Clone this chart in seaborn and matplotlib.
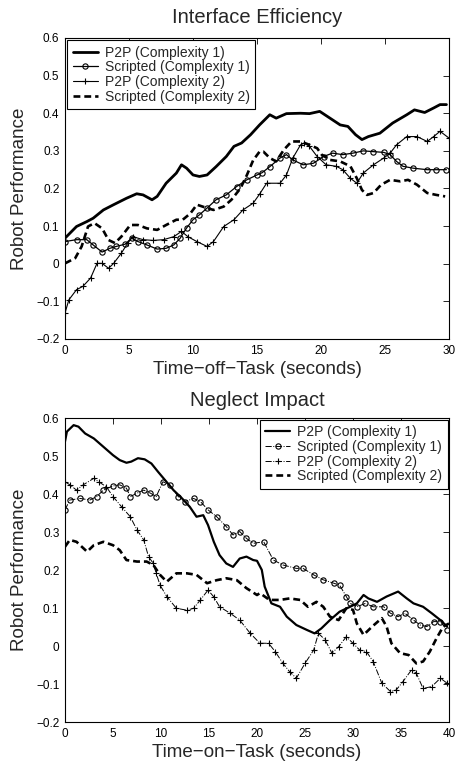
import numpy as np
import pandas as pd
import matplotlib
matplotlib.use("Agg")
import matplotlib.pyplot as plt
import seaborn as sns

# ---------------- data: Interface Efficiency (top) ----------------
top_p2p1_t = [0, 0.9, 1.7, 2.2, 3.0, 3.8, 4.8, 5.6, 6.1, 6.8, 7.2, 7.9, 8.7, 9.1, 9.5, 10.0, 10.5, 11.1,
              11.8, 12.6, 13.2, 13.8, 14.5, 15.2, 16.0, 16.5, 17.3, 18.4, 19.1, 19.9, 20.7, 21.5, 22.1,
              22.7, 23.2, 23.7, 24.6, 25.6, 26.7, 27.3, 28.1, 28.8, 29.3, 29.8]
top_p2p1_v = [0.068, 0.099, 0.112, 0.121, 0.143, 0.157, 0.174, 0.186, 0.183, 0.170, 0.179, 0.214, 0.241,
              0.263, 0.254, 0.236, 0.232, 0.236, 0.258, 0.285, 0.312, 0.321, 0.343, 0.369, 0.396, 0.387,
              0.399, 0.400, 0.399, 0.405, 0.387, 0.369, 0.365, 0.343, 0.330, 0.338, 0.347, 0.374, 0.396,
              0.409, 0.402, 0.414, 0.423, 0.423]

top_scr1_t = [0, 0.9, 1.7, 2.2, 2.9, 3.5, 4.0, 4.7, 5.2, 5.7, 6.4, 7.2, 7.9, 8.5, 9.0, 9.5, 10.0, 10.5,
              11.1, 11.8, 12.6, 13.4, 14.2, 15.0, 15.4, 16.0, 16.8, 17.3, 17.8, 18.6, 19.4, 20.2, 20.9,
              21.7, 22.5, 23.3, 24.1, 24.9, 25.4, 25.9, 26.4, 27.2, 28.3, 29.0, 29.8]
top_scr1_v = [0.059, 0.064, 0.064, 0.050, 0.031, 0.041, 0.046, 0.052, 0.068, 0.059, 0.050, 0.039, 0.041,
              0.050, 0.068, 0.095, 0.117, 0.130, 0.148, 0.170, 0.183, 0.205, 0.223, 0.236, 0.242, 0.258,
              0.281, 0.290, 0.276, 0.263, 0.267, 0.285, 0.294, 0.290, 0.294, 0.300, 0.298, 0.296, 0.290,
              0.272, 0.259, 0.254, 0.250, 0.250, 0.250]

top_p2p2_t = [0, 0.3, 0.9, 1.4, 2.0, 2.5, 2.9, 3.4, 3.8, 4.4, 4.9, 5.3, 6.1, 6.9, 7.7, 8.5, 9.1, 9.6,
              10.3, 11.1, 11.6, 12.4, 13.2, 13.9, 14.7, 15.2, 15.75, 16.8, 17.3, 17.8, 18.4, 18.7, 19.1,
              19.7, 20.4, 21.2, 21.7, 22.3, 22.8, 23.3, 24.1, 24.9, 25.4, 25.9, 26.7, 27.5, 28.3, 28.8,
              29.3, 30.0]
top_p2p2_v = [-0.131, -0.096, -0.069, -0.060, -0.038, 0.001, 0.001, -0.012, 0.001, 0.028, 0.055, 0.072,
              0.064, 0.062, 0.064, 0.072, 0.086, 0.072, 0.059, 0.046, 0.059, 0.099, 0.117, 0.143, 0.161,
              0.185, 0.214, 0.214, 0.236, 0.281, 0.316, 0.321, 0.312, 0.285, 0.263, 0.259, 0.250, 0.227,
              0.214, 0.241, 0.263, 0.281, 0.294, 0.316, 0.338, 0.338, 0.325, 0.338, 0.352, 0.334]

top_scr2_t = [0, 0.8, 1.3, 1.8, 2.3, 2.9, 3.4, 3.9, 4.4, 5.1, 5.7, 6.4, 7.2, 7.9, 8.7, 9.2, 9.8, 10.3,
              11.1, 11.6, 12.4, 13.0, 13.7, 14.2, 14.7, 15.2, 15.5, 16.0, 16.5, 17.1, 17.7, 18.4, 19.1,
              19.7, 20.05, 20.7, 21.5, 22.3, 22.8, 23.2, 23.6, 24.1, 24.7, 25.4, 26.2, 26.8, 27.5, 28.3,
              29.0, 29.7]
top_scr2_v = [0.001, 0.015, 0.046, 0.099, 0.108, 0.094, 0.063, 0.055, 0.072, 0.103, 0.103, 0.094, 0.090,
              0.103, 0.117, 0.117, 0.134, 0.157, 0.148, 0.143, 0.152, 0.170, 0.200, 0.235, 0.275, 0.298,
              0.298, 0.281, 0.272, 0.303, 0.325, 0.325, 0.316, 0.307, 0.290, 0.276, 0.272, 0.259, 0.227,
              0.196, 0.183, 0.188, 0.210, 0.223, 0.219, 0.223, 0.210, 0.188, 0.183, 0.179]

# ---------------- data: Neglect Impact (bottom) ----------------
bot_p2p1_t = [0, 0.2, 0.9, 1.4, 2.1, 3.0, 4.0, 5.0, 5.7, 6.4, 6.9, 7.6, 8.3, 9.0, 9.7, 10.4, 11.3, 12.2,
              13.0, 13.7, 14.4, 14.9, 15.5, 16.1, 16.8, 17.5, 18.2, 18.9, 19.6, 20.0, 20.5, 20.8, 21.5,
              22.4, 23.1, 24.1, 25.2, 26.0, 26.7, 27.6, 28.6, 29.7, 30.4, 31.1, 31.6, 32.5, 33.5, 34.7,
              35.6, 36.3, 37.3, 38.2, 39.1, 39.8]
bot_p2p1_v = [0.539, 0.565, 0.582, 0.578, 0.560, 0.547, 0.525, 0.503, 0.490, 0.483, 0.486, 0.495, 0.492,
              0.481, 0.459, 0.438, 0.411, 0.389, 0.367, 0.341, 0.345, 0.319, 0.275, 0.240, 0.218, 0.209,
              0.231, 0.236, 0.227, 0.225, 0.201, 0.157, 0.113, 0.104, 0.078, 0.056, 0.043, 0.034, 0.047,
              0.069, 0.091, 0.104, 0.113, 0.135, 0.126, 0.117, 0.131, 0.144, 0.126, 0.113, 0.104, 0.087,
              0.069, 0.052]

bot_scr1_t = [0, 0.5, 1.6, 2.6, 3.3, 4.0, 5.0, 5.7, 6.4, 6.8, 7.5, 8.2, 8.9, 9.5, 10.2, 10.9, 11.8, 12.5,
              13.4, 14.1, 14.9, 15.8, 16.8, 17.5, 18.2, 18.9, 19.6, 20.7, 21.7, 22.7, 24.1, 24.8, 25.9,
              26.9, 28.0, 28.6, 29.3, 29.7, 30.4, 31.3, 32.1, 33.2, 33.9, 34.7, 35.4, 36.3, 37.0, 37.7,
              38.4, 39.1, 39.8]
bot_scr1_v = [0.359, 0.385, 0.389, 0.385, 0.394, 0.411, 0.422, 0.425, 0.416, 0.394, 0.403, 0.411, 0.403,
              0.394, 0.433, 0.425, 0.394, 0.381, 0.389, 0.381, 0.359, 0.341, 0.315, 0.293, 0.302, 0.284,
              0.271, 0.275, 0.227, 0.214, 0.205, 0.205, 0.188, 0.175, 0.166, 0.161, 0.131, 0.113, 0.104,
              0.113, 0.104, 0.104, 0.087, 0.078, 0.087, 0.069, 0.056, 0.052, 0.065, 0.065, 0.043]

bot_p2p2_t = [0, 0.5, 1.2, 1.9, 3.0, 3.5, 4.3, 5.0, 5.9, 6.8, 7.5, 8.2, 8.7, 9.2, 9.5, 9.9, 10.6, 11.6,
              12.7, 13.4, 14.1, 14.9, 15.5, 16.1, 17.2, 18.2, 19.3, 20.3, 21.2, 21.9, 22.7, 23.4, 24.1,
              25.0, 25.9, 26.4, 27.1, 27.8, 28.5, 29.3, 30.0, 30.7, 31.4, 32.1, 33.0, 33.9, 34.5, 35.2,
              36.1, 36.6, 37.3, 38.2, 39.1, 39.8]
bot_p2p2_v = [0.433, 0.425, 0.411, 0.425, 0.442, 0.433, 0.420, 0.394, 0.367, 0.341, 0.306, 0.280, 0.236,
              0.218, 0.192, 0.161, 0.131, 0.100, 0.095, 0.100, 0.122, 0.148, 0.130, 0.104, 0.087, 0.069,
              0.034, 0.008, 0.008, -0.014, -0.045, -0.067, -0.084, -0.045, -0.010, 0.034, 0.017, -0.018,
              -0.001, 0.025, 0.008, -0.010, -0.014, -0.040, -0.097, -0.119, -0.115, -0.093, -0.062,
              -0.071, -0.111, -0.106, -0.084, -0.097]

bot_scr2_t = [0, 0.5, 1.2, 2.3, 3.0, 4.0, 5.0, 5.7, 6.4, 7.5, 8.5, 9.2, 9.9, 10.6, 11.6, 12.7, 13.7, 14.8,
              15.8, 16.8, 17.9, 18.9, 20.0, 20.3, 21.3, 22.4, 23.4, 24.5, 25.3, 26.2, 26.9, 27.6, 28.5,
              29.3, 30.0, 30.4, 31.1, 32.0, 33.0, 33.5, 34.0, 34.9, 35.8, 36.6, 37.3, 38.0, 38.7, 39.4,
              40.0]
bot_scr2_v = [0.262, 0.280, 0.275, 0.249, 0.266, 0.275, 0.266, 0.253, 0.227, 0.223, 0.223, 0.214, 0.188,
              0.170, 0.192, 0.192, 0.188, 0.166, 0.174, 0.179, 0.174, 0.153, 0.135, 0.140, 0.122, 0.122,
              0.126, 0.122, 0.104, 0.117, 0.104, 0.078, 0.069, 0.100, 0.096, 0.060, 0.030, 0.052, 0.074,
              0.052, 0.008, -0.018, -0.023, -0.045, -0.040, -0.014, 0.021, 0.052, 0.060]

labels = ["P2P (Complexity 1)", "Scripted (Complexity 1)", "P2P (Complexity 2)", "Scripted (Complexity 2)"]
titles = ["Interface Efficiency", "Neglect Impact"]
xlabels = ["Time\u2212off\u2212Task (seconds)", "Time\u2212on\u2212Task (seconds)"]
ylabel = "Robot Performance"
yticks = [-0.2, -0.1, 0, 0.1, 0.2, 0.3, 0.4, 0.5, 0.6]
ytick_labels = ["\u22120.2", "\u22120.1", "0", "0.1", "0.2", "0.3", "0.4", "0.5", "0.6"]

sns.set_style("white")
plt.rcParams["font.family"] = ["Liberation Sans", "DejaVu Sans"]

fig = plt.figure(figsize=(4.56, 7.64), dpi=100)
ax_top = fig.add_axes([65 / 456, 1 - 339 / 764, 384 / 456, 301 / 764])
ax_bot = fig.add_axes([65 / 456, 1 - 722.3 / 764, 384 / 456, 304 / 764])

DASH = (0, (2.6, 1.5))


def draw(ax, t, v, label, **kw):
    df = pd.DataFrame({"t": t, "v": v})
    sns.lineplot(data=df, x="t", y="v", ax=ax, color="black", label=label,
                 errorbar=None, estimator=None, sort=False, **kw)


circ = dict(marker="o", markersize=3.8, markerfacecolor="none", markeredgecolor="black",
            markeredgewidth=0.8)
plus = dict(marker="+", markersize=4.5, markerfacecolor="black", markeredgecolor="black",
            markeredgewidth=0.8)

# top panel
draw(ax_top, top_p2p1_t, top_p2p1_v, labels[0], lw=2.0)
draw(ax_top, top_scr1_t, top_scr1_v, labels[1], lw=0.9, **circ)
draw(ax_top, top_p2p2_t, top_p2p2_v, labels[2], lw=0.8, **plus)
draw(ax_top, top_scr2_t, top_scr2_v, labels[3], lw=1.9, linestyle=DASH)

# bottom panel
draw(ax_bot, bot_p2p1_t, bot_p2p1_v, labels[0], lw=1.6)
draw(ax_bot, bot_scr1_t, bot_scr1_v, labels[1], lw=0.7, linestyle="-.", **circ)
draw(ax_bot, bot_p2p2_t, bot_p2p2_v, labels[2], lw=0.7, linestyle="-.", **plus)
draw(ax_bot, bot_scr2_t, bot_scr2_v, labels[3], lw=1.9, linestyle=DASH)

for i, (ax, xmax) in enumerate([(ax_top, 30), (ax_bot, 40)]):
    ax.set_xlim(0, xmax)
    ax.set_ylim(-0.2, 0.6)
    ax.set_xticks(np.arange(0, xmax + 1, 5))
    ax.set_yticks(yticks)
    ax.set_yticklabels(ytick_labels)
    ax.tick_params(direction="in", top=True, right=True, length=4, width=0.6,
                   labelsize=8.5, pad=4, colors="black")
    for s in ax.spines.values():
        s.set_color("black")
        s.set_linewidth(0.8)
    ax.set_title(titles[i], fontsize=14.5, pad=11 if i == 0 else 8.5)
    ax.set_xlabel(xlabels[i], fontsize=13.5, labelpad=3)
    ax.set_ylabel(ylabel, fontsize=13.5, labelpad=6)
    leg = ax.legend(loc="upper left" if i == 0 else "upper right", fontsize=10,
                    frameon=True, fancybox=False, framealpha=1, edgecolor="black",
                    borderpad=0.4, labelspacing=0.05, handlelength=1.8, handletextpad=0.5,
                    borderaxespad=0.15 if i == 0 else 0.1)
    leg.get_frame().set_linewidth(0.8)

fig.savefig("out.png", dpi=100)
